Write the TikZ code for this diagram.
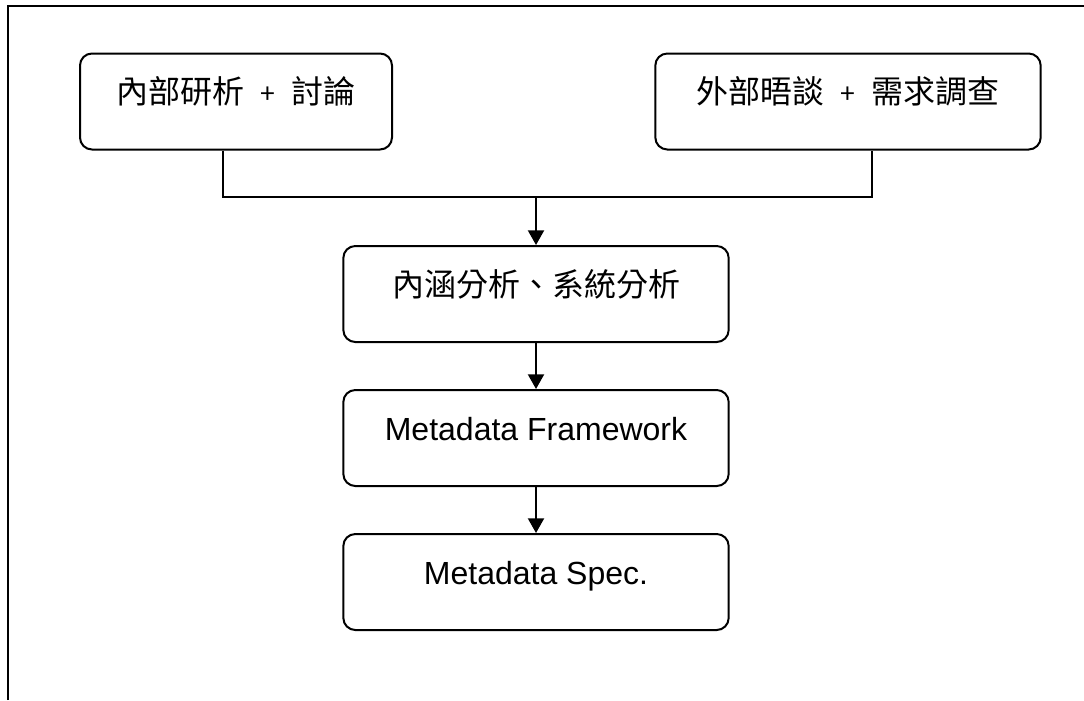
\documentclass[tikz,border=0pt]{standalone}
\usepackage{fontspec}
\setmainfont{Liberation Sans}
\newfontfamily\cjk{Noto Sans CJK TC}
\usepackage{tikz}
\usetikzlibrary{arrows.meta}

\newcommand{\plusgap}{\hspace{12pt}{\fontsize{20}{24}\selectfont +}\hspace{12pt}}

\tikzset{
    stagebox/.style={draw, line width=1.5pt, rounded corners=9pt, inner xsep=0pt, inner ysep=0pt,
        minimum width=289pt, text height=37.5pt, text depth=34.5pt, font=\fontsize{24}{28}\selectfont},
    flow/.style={line width=1.5pt, -{Triangle[width=12pt,length=11pt]}}
}

\begin{document}
\begin{tikzpicture}[x=0.75pt, y=-0.75pt]
    \useasboundingbox (0,0) rectangle (1084,700);
    % frame (top and left edge only)
    \draw[line width=2.2pt] (8,700) -- (8,6) -- (1084,6);

    \node[stagebox, minimum width=234pt] (intern) at (236,101.5) {\cjk 內部研析\plusgap 討論};
    \node[stagebox] (extern) at (848,101.5) {\cjk 外部晤談\plusgap 需求調查};
    \node[stagebox] (analysis) at (536,294) {\cjk 內涵分析、系統分析};
    \node[stagebox] (framework) at (536,438) {Metadata Framework};
    \node[stagebox] (spec) at (536,582) {Metadata Spec.};

    \coordinate (join) at (536,197);
    \draw[line width=1.5pt] ([xshift=-13*0.75pt]intern.south) |- (join) -| ([xshift=24*0.75pt]extern.south);
    \draw[flow] (join) -- (analysis);
    \draw[flow] (analysis) -- (framework);
    \draw[flow] (framework) -- (spec);
    % \node [left] at (536,197) {};
\end{tikzpicture}
\end{document}
